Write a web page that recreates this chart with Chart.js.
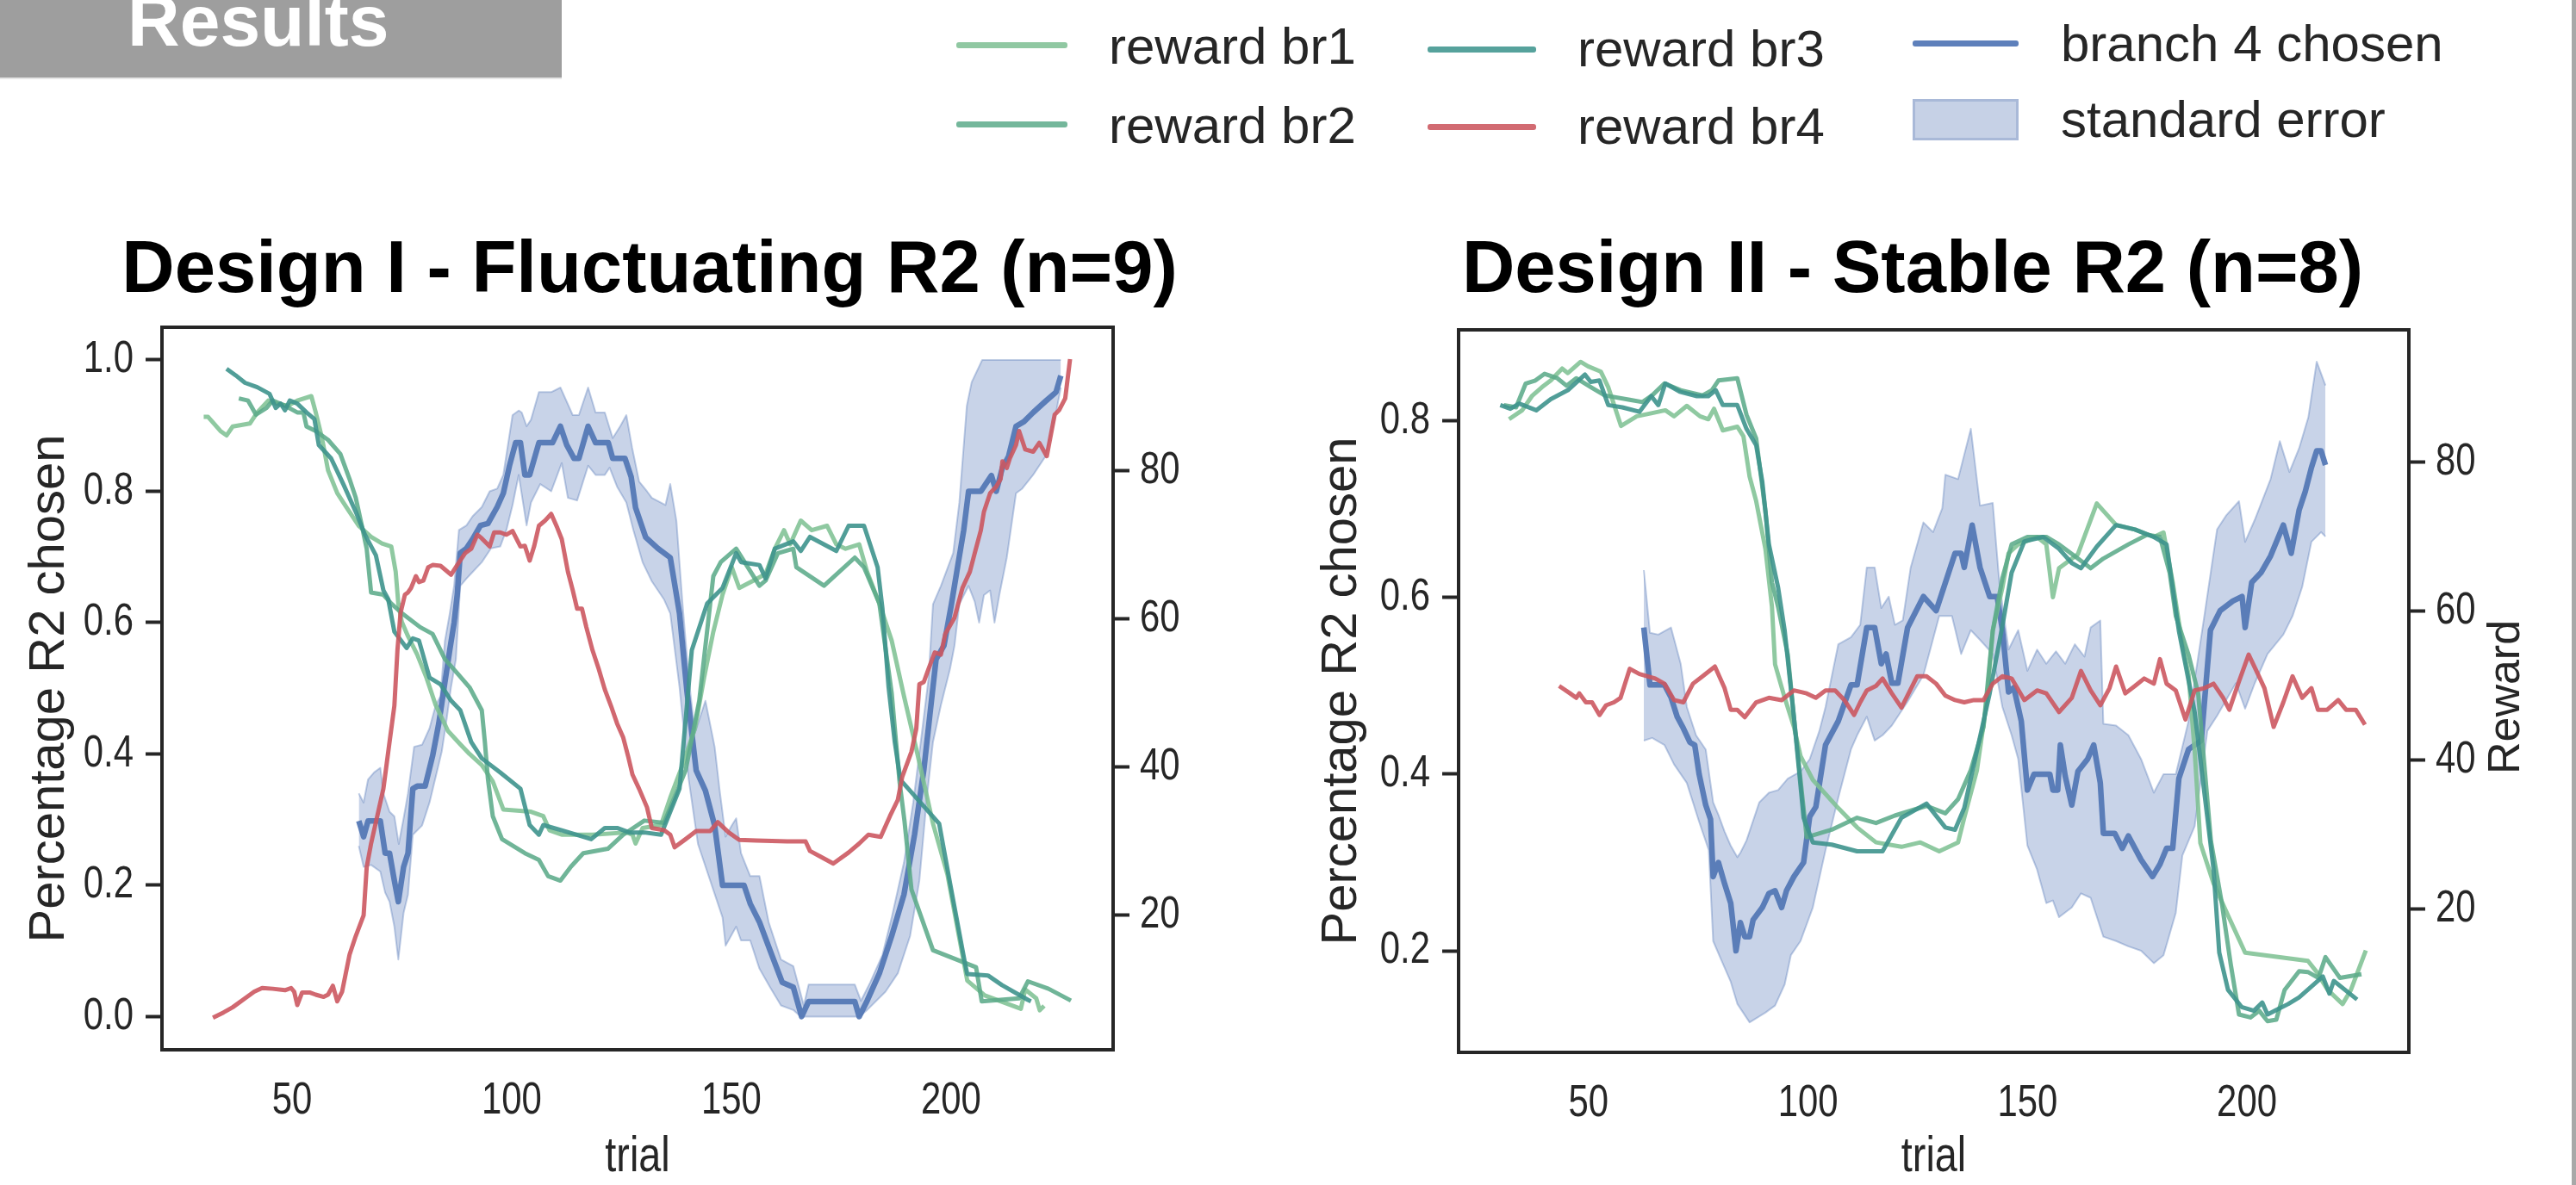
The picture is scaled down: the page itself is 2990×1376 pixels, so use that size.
<!DOCTYPE html>
<html>
<head>
<meta charset="utf-8">
<script src="https://cdn.jsdelivr.net/npm/chart.js@4.4.1/dist/chart.umd.min.js"></script>
<style>
  html, body { margin: 0; padding: 0; background: #fff; }
  body { width: 2990px; height: 1376px; position: relative; overflow: hidden; }
  #banner { position: absolute; left: 0; top: 0; width: 652px; height: 90px; background: #9e9e9e; overflow: hidden; border-bottom: 2px solid #e6e6e6; }
  #banner span { position: absolute; left: 148px; top: -18px; font: bold 84px/84px "Liberation Sans", Arial, sans-serif; color: #fff; white-space: nowrap; }
  .lgl { position: absolute; height: 7px; border-radius: 3px; }
  .lgt { position: absolute; font: 60px/60px "Liberation Sans", Arial, sans-serif; color: #262626; white-space: nowrap; }
  .lgp { position: absolute; box-sizing: border-box; background: #c6d1e6; border: 3px solid #a9b9d8; }
  canvas { position: absolute; }
  #edge { position: absolute; left: 2985px; top: 0; width: 5px; height: 1376px; background: #a8a8a8; }
</style>
</head>
<body>
<div id="banner"><span>Results</span></div>

<div class="lgl" style="left:1110px;top:48.5px;width:129px;background:#90c8a2"></div>
<div class="lgt" style="left:1287px;top:24px">reward br1</div>
<div class="lgl" style="left:1110px;top:140.5px;width:129px;background:#74b79b"></div>
<div class="lgt" style="left:1287px;top:116px">reward br2</div>
<div class="lgl" style="left:1657px;top:53.5px;width:126px;background:#56a29c"></div>
<div class="lgt" style="left:1831px;top:27px">reward br3</div>
<div class="lgl" style="left:1657px;top:143.5px;width:126px;background:#d26b72"></div>
<div class="lgt" style="left:1831px;top:117px">reward br4</div>
<div class="lgl" style="left:2220px;top:46.5px;width:123px;background:#5e80bb"></div>
<div class="lgt" style="left:2392px;top:21px">branch 4 chosen</div>
<div class="lgp" style="left:2220px;top:115px;width:123px;height:48px"></div>
<div class="lgt" style="left:2392px;top:109px">standard error</div>

<canvas id="c1" width="1508" height="1146" style="left:0px;top:230px"></canvas>
<canvas id="c2" width="1440" height="1143" style="left:1500px;top:233px"></canvas>
<div id="edge"></div>

<script>
// ---------------- DATA ----------------
const xTickValues = [50, 100, 150, 200];
const d1PctTicks = [0.0, 0.2, 0.4, 0.6, 0.8, 1.0];
const d2PctTicks = [0.2, 0.4, 0.6, 0.8];
const rewardTicks = [20, 40, 60, 80];

const titleD1 = 'Design I - Fluctuating R2 (n=9)';
const titleD2 = 'Design II - Stable R2 (n=8)';

// Design I : [trial, reward]
const d1Br1 = [[29.9,87.3],[30.9,87.3],[33.7,85.4],[35.1,84.8],[36.5,86.0],[40.4,86.4],[42.1,87.9],[44.6,89.5],[46.3,89.1],[49.1,88.8],[51.2,89.5],[54.4,90.1],[55.4,87.9],[56.8,84.5],[58.2,80.1],[60.3,77.0],[62.4,75.1],[65.2,72.6],[68.0,71.1],[70.5,70.2],[72.6,69.8],[73.6,66.4],[74.2,62.1],[75.0,59.6],[76.4,57.7],[78.5,55.2],[80.6,52.1],[82.7,48.4],[85.5,44.9],[88.3,43.1],[90.4,41.8],[93.2,40.3],[95.7,38.1],[98.1,34.3],[104.4,34.0],[107.2,33.4],[108.6,31.5],[111.4,30.9],[118.4,30.9],[126.1,31.2],[127.5,30.9],[128.2,29.7],[129.8,31.8],[134.0,32.2],[136.1,35.9],[138.9,40.3],[141.7,45.2],[143.8,52.1],[145.9,58.3],[148.0,63.3],[150.1,67.0],[151.8,64.2],[155.0,65.2],[157.8,66.1],[159.9,69.5],[162.0,72.0],[163.4,70.1],[165.8,73.3],[168.3,72.0],[171.8,72.6],[173.9,70.1],[176.0,69.5],[179.1,70.1],[180.9,66.4],[183.7,62.1],[186.5,57.1],[189.3,49.6],[192.4,41.7],[195.9,32.4],[199.2,25.5],[203.7,11.2],[207.7,9.2],[215.9,7.4],[216.9,10.0],[219.4,8.8],[220.2,7.2],[221.2,7.8]];
const d1Br2 = [[37.9,89.8],[40.0,89.5],[41.8,87.6],[44.2,88.5],[45.6,89.5],[48.4,88.8],[51.2,87.9],[52.6,87.9],[53.3,86.0],[55.4,85.4],[58.2,84.2],[61.0,82.3],[63.1,78.9],[64.5,76.4],[65.9,72.6],[67.0,69.5],[68.0,63.6],[70.8,63.3],[72.6,62.1],[75.0,60.8],[79.2,58.9],[82.0,58.0],[84.8,54.6],[87.6,52.7],[90.4,50.8],[93.2,47.7],[93.9,43.4],[94.6,38.4],[95.7,33.4],[97.8,30.3],[103.0,28.4],[106.2,27.5],[108.3,25.3],[111.1,24.7],[113.5,26.6],[116.3,28.4],[121.9,29.0],[125.4,30.9],[130.2,32.8],[134.7,32.5],[139.6,39.6],[142.7,49.0],[145.9,65.8],[147.6,67.7],[151.1,69.5],[156.4,64.5],[157.8,65.2],[160.6,68.9],[164.1,69.5],[164.8,67.0],[171.1,64.5],[178.1,68.3],[180.2,67.0],[183.7,62.1],[186.5,50.0],[188.3,38.0],[189.4,32.8],[191.0,23.5],[195.9,15.3],[205.7,13.0],[207.0,8.4],[215.5,8.8],[217.5,11.1],[222.2,10.1],[227.3,8.5]];
const d1Br3 = [[35.1,93.8],[37.2,92.9],[39.3,91.9],[42.1,91.3],[44.9,90.4],[46.3,88.5],[47.4,89.1],[48.4,88.2],[49.5,89.5],[51.2,89.1],[53.3,87.9],[55.1,87.0],[56.1,83.5],[58.9,81.7],[61.7,78.2],[64.5,74.5],[66.6,71.4],[69.1,68.6],[70.8,63.9],[71.9,62.7],[73.3,58.3],[76.1,56.1],[77.5,57.4],[78.9,57.1],[81.3,52.1],[83.8,51.2],[86.2,49.0],[88.3,47.7],[90.8,43.4],[93.2,41.2],[97.4,39.3],[102.0,37.1],[104.1,32.2],[106.2,30.9],[107.2,32.2],[111.4,31.5],[118.1,30.3],[121.2,31.8],[124.0,31.8],[126.8,31.2],[130.2,31.2],[134.0,30.9],[138.2,37.1],[141.0,55.8],[144.5,62.1],[148.0,64.2],[151.1,68.9],[152.2,67.7],[156.4,67.3],[157.8,65.5],[159.9,69.5],[164.1,70.5],[165.8,69.2],[167.9,71.1],[173.9,69.2],[176.7,72.6],[180.2,72.6],[183.3,67.0],[184.4,61.4],[185.8,50.8],[187.2,43.4],[188.5,38.3],[197.3,32.4],[199.8,24.3],[203.1,13.8],[203.7,12.1],[208.4,11.9],[211.6,10.6],[217.5,8.6],[218.2,8.4]];
const d1Br4 = [[32.0,6.2],[34.4,6.9],[36.5,7.6],[39.3,8.8],[41.4,9.7],[43.2,10.2],[45.6,10.1],[48.4,9.9],[49.8,10.2],[50.5,9.7],[51.2,7.9],[52.3,9.6],[54.0,9.6],[55.4,9.3],[57.2,9.0],[58.2,9.3],[59.3,10.5],[60.3,8.4],[61.4,9.7],[63.1,14.7],[64.5,17.2],[66.3,20.0],[67.0,26.5],[68.0,29.7],[69.4,33.4],[70.8,37.1],[72.2,43.4],[73.3,48.3],[74.0,55.8],[74.7,60.8],[75.7,63.3],[76.4,63.6],[77.1,64.2],[78.2,65.8],[78.9,65.0],[79.9,65.2],[81.0,67.0],[82.0,67.3],[83.8,67.2],[84.8,66.7],[86.2,66.0],[87.6,67.3],[89.4,68.9],[90.8,69.5],[92.2,71.4],[93.2,70.9],[95.0,69.8],[96.0,71.7],[97.4,71.7],[98.8,71.4],[100.2,71.9],[102.0,69.8],[103.0,69.9],[104.1,67.9],[105.1,69.8],[106.2,72.6],[107.6,73.3],[109.0,74.2],[110.4,72.3],[111.4,70.8],[112.8,66.4],[113.9,63.9],[114.9,61.4],[116.0,61.4],[117.0,58.9],[118.4,55.8],[119.8,53.3],[121.2,50.5],[122.6,48.3],[124.0,45.9],[125.4,44.0],[126.5,41.5],[127.5,39.0],[129.0,37.1],[130.8,34.6],[131.9,31.8],[134.7,31.5],[136.1,30.9],[137.1,29.2],[139.6,30.3],[142.0,31.4],[145.2,31.4],[146.9,32.6],[149.4,31.2],[151.8,30.2],[155.7,30.1],[162.7,30.0],[166.9,30.0],[167.9,28.7],[170.4,27.9],[173.2,27.0],[176.7,28.5],[179.1,29.7],[181.2,30.9],[184.0,30.6],[186.1,33.4],[187.9,35.6],[188.9,38.7],[191.0,42.1],[192.1,45.2],[192.8,51.2],[193.8,51.5],[194.9,53.3],[196.3,55.5],[197.7,55.2],[198.7,58.0],[200.8,60.2],[202.6,64.2],[204.3,66.4],[205.4,68.9],[206.8,72.0],[207.5,74.5],[208.9,77.0],[210.3,77.9],[211.3,78.9],[211.7,81.3],[212.7,80.4],[213.4,81.7],[214.8,83.5],[215.5,85.4],[216.9,82.9],[218.7,82.6],[220.1,83.8],[221.8,82.0],[223.6,87.6],[224.6,88.2],[226.0,89.8],[227.1,95.1]];
// Design I : [trial, share of R2 chosen]
const d1Chosen = [[65.2,0.298],[66.3,0.274],[67.3,0.298],[70.1,0.298],[71.2,0.249],[72.2,0.249],[73.3,0.207],[74.2,0.175],[75.4,0.228],[76.4,0.249],[77.5,0.347],[78.5,0.351],[80.3,0.351],[82.0,0.397],[83.4,0.446],[84.8,0.509],[85.9,0.558],[86.9,0.600],[87.6,0.642],[88.3,0.706],[89.7,0.713],[91.1,0.727],[92.9,0.748],[94.6,0.751],[96.7,0.776],[98.1,0.797],[99.5,0.839],[100.9,0.874],[102.0,0.874],[103.0,0.825],[104.1,0.825],[106.2,0.874],[109.3,0.874],[111.1,0.899],[112.5,0.871],[114.2,0.850],[115.3,0.850],[117.4,0.899],[119.1,0.874],[122.0,0.874],[123.0,0.850],[125.8,0.850],[127.2,0.822],[128.2,0.775],[130.5,0.730],[133.3,0.713],[136.1,0.699],[138.2,0.614],[139.9,0.495],[142.0,0.375],[144.1,0.344],[146.2,0.291],[148.0,0.200],[152.9,0.200],[154.3,0.172],[156.4,0.144],[158.8,0.101],[161.6,0.052],[164.1,0.045],[166.0,0.0],[167.6,0.023],[178.1,0.023],[179.1,0.0],[180.9,0.024],[183.7,0.066],[186.5,0.123],[189.3,0.186],[191.7,0.277],[193.8,0.375],[195.2,0.460],[196.6,0.544],[198.4,0.565],[200.1,0.628],[201.5,0.685],[202.9,0.741],[204.0,0.800],[206.8,0.800],[209.2,0.824],[210.3,0.800],[211.7,0.836],[213.1,0.853],[214.8,0.899],[216.6,0.906],[218.7,0.920],[221.5,0.937],[223.9,0.951],[225.0,0.976]];
const d1ErrUpper = [[65.2,0.340],[66.3,0.326],[67.3,0.361],[68.7,0.372],[70.1,0.379],[70.8,0.340],[72.2,0.312],[73.3,0.305],[74.3,0.263],[75.4,0.302],[76.4,0.340],[77.8,0.411],[79.6,0.414],[81.3,0.439],[82.7,0.474],[83.8,0.488],[84.8,0.572],[85.9,0.614],[86.9,0.656],[88.0,0.741],[89.7,0.748],[91.1,0.762],[93.2,0.776],[95.0,0.800],[96.7,0.804],[98.1,0.825],[100.2,0.916],[101.6,0.923],[102.3,0.920],[103.4,0.899],[104.4,0.909],[106.2,0.951],[109.0,0.951],[111.1,0.958],[113.9,0.916],[115.3,0.916],[117.4,0.958],[119.1,0.920],[121.2,0.920],[123.0,0.881],[124.7,0.899],[126.1,0.916],[127.4,0.867],[129.0,0.815],[130.8,0.800],[131.9,0.790],[135.0,0.779],[136.1,0.811],[137.5,0.755],[138.9,0.628],[140.3,0.516],[141.7,0.432],[144.1,0.481],[146.2,0.411],[147.3,0.347],[148.7,0.274],[150.1,0.291],[151.1,0.302],[152.2,0.249],[154.3,0.214],[156.4,0.214],[158.5,0.144],[161.3,0.087],[164.1,0.077],[166.5,0.017],[167.6,0.049],[178.1,0.049],[179.5,0.024],[181.6,0.052],[184.4,0.094],[186.5,0.151],[189.3,0.235],[191.4,0.326],[193.5,0.439],[194.9,0.516],[195.9,0.628],[197.7,0.656],[200.5,0.706],[201.9,0.783],[203.6,0.930],[204.7,0.966],[207.1,1.0],[225.0,1.0]];
const d1ErrLower = [[65.2,0.260],[66.3,0.228],[68.0,0.231],[70.1,0.221],[71.2,0.189],[72.2,0.175],[73.3,0.137],[74.2,0.087],[75.4,0.158],[76.4,0.186],[77.5,0.277],[79.6,0.291],[81.3,0.326],[82.7,0.365],[84.1,0.404],[85.2,0.453],[86.2,0.502],[87.3,0.544],[88.3,0.656],[89.7,0.667],[91.1,0.677],[93.2,0.692],[95.3,0.713],[97.4,0.716],[98.8,0.741],[100.2,0.779],[101.6,0.825],[103.4,0.748],[104.4,0.783],[106.5,0.811],[109.0,0.800],[111.4,0.843],[112.8,0.790],[114.9,0.786],[117.4,0.839],[119.1,0.825],[121.2,0.825],[122.3,0.836],[124.0,0.807],[126.1,0.783],[127.7,0.741],[129.8,0.692],[131.9,0.663],[134.7,0.635],[136.1,0.614],[138.2,0.502],[140.3,0.361],[142.4,0.263],[144.5,0.221],[145.9,0.193],[148.0,0.151],[148.7,0.108],[151.1,0.137],[152.2,0.116],[154.3,0.116],[156.4,0.073],[158.8,0.045],[161.3,0.017],[164.1,0.010],[165.8,0.0],[179.1,0.0],[180.9,0.010],[185.1,0.038],[187.9,0.066],[190.7,0.123],[192.8,0.207],[194.5,0.333],[195.9,0.418],[197.7,0.474],[199.8,0.530],[200.8,0.565],[201.9,0.628],[204.0,0.656],[205.4,0.632],[206.4,0.600],[207.5,0.642],[208.9,0.649],[209.9,0.600],[211.0,0.642],[212.7,0.699],[214.8,0.797],[216.2,0.804],[218.7,0.825],[221.5,0.853],[223.6,0.909],[225.0,0.958]];

// Design II : [trial, reward]
const d2Br1 = [[31.9,85.8],[34.9,87.0],[37.1,88.9],[39.4,90.1],[41.4,91.0],[44.0,92.6],[45.3,92.0],[48.2,93.5],[49.9,92.9],[52.8,92.2],[54.5,90.1],[57.4,84.9],[61.0,86.2],[64.3,86.6],[67.5,87.0],[69.5,86.2],[72.4,87.6],[75.4,86.2],[77.3,85.8],[78.6,87.2],[80.6,84.3],[83.9,84.8],[85.3,83.5],[86.7,78.1],[88.2,74.8],[90.3,68.4],[91.8,60.6],[92.5,52.9],[94.7,48.4],[96.8,44.5],[98.3,40.6],[101.1,37.4],[106.9,33.6],[111.2,31.0],[115.5,29.0],[121.3,28.4],[125.6,29.0],[129.9,27.8],[134.2,29.0],[135.6,32.3],[138.5,38.7],[140.7,47.7],[142.1,57.4],[144.3,63.2],[145.7,67.8],[147.9,69.0],[152.2,70.0],[154.3,69.0],[155.8,61.9],[157.2,65.8],[161.5,67.7],[165.8,74.5],[170.2,71.6],[174.5,71.0],[178.8,70.0],[181.0,70.6],[183.1,63.9],[185.3,55.5],[186.7,51.6],[188.1,41.3],[189.4,28.9],[192.4,23.5],[195.7,19.2],[199.6,14.2],[213.9,13.1],[215.9,11.6],[218.4,9.2],[221.8,7.3],[223.7,9.2],[227.1,14.5]];
const d2Br2 = [[30.7,87.7],[33.5,87.4],[35.7,90.6],[37.9,91.0],[40.0,91.9],[42.9,91.3],[45.0,90.3],[47.2,91.3],[50.8,90.0],[53.7,89.0],[59.4,88.4],[62.3,88.1],[64.5,89.0],[67.3,90.6],[71.0,89.7],[76.0,89.0],[78.1,89.7],[79.6,91.0],[83.9,91.3],[86.0,86.4],[88.2,83.2],[90.3,73.5],[91.8,63.9],[93.2,60.6],[95.4,54.2],[96.8,45.8],[98.3,37.4],[99.7,29.7],[105.4,30.7],[111.2,32.3],[115.5,31.6],[119.8,32.6],[127.0,33.9],[131.3,32.9],[134.2,34.8],[137.1,38.7],[140.0,44.5],[142.1,57.4],[144.3,64.5],[146.4,69.0],[150.0,70.0],[154.3,70.0],[157.2,69.0],[161.5,67.1],[164.4,65.8],[167.3,67.1],[173.0,69.0],[177.3,70.3],[180.2,70.0],[182.4,65.2],[183.8,59.4],[186.7,54.2],[188.9,49.0],[191.8,29.2],[194.3,20.8],[196.3,12.7],[198.2,5.9],[200.8,5.5],[202.8,6.4],[204.7,5.0],[206.7,5.2],[208.6,9.2],[211.9,11.7],[213.9,11.6],[216.3,10.8],[217.9,13.6],[221.2,10.8],[226.1,11.3]];
const d2Br3 = [[29.9,87.7],[32.2,87.2],[34.2,87.9],[38.1,87.0],[41.4,88.5],[45.3,89.7],[49.2,91.8],[50.5,90.8],[52.5,91.0],[54.5,87.7],[57.7,87.4],[61.6,86.8],[64.3,88.9],[65.9,87.7],[67.5,90.6],[70.8,89.5],[74.7,88.9],[77.3,88.9],[79.0,89.7],[80.6,87.7],[83.9,87.7],[86.0,84.5],[88.2,82.3],[89.6,77.4],[91.1,69.0],[93.2,63.2],[94.7,57.4],[96.8,45.8],[99.0,32.3],[101.1,29.0],[105.4,28.7],[111.2,27.8],[117.0,27.8],[121.3,32.3],[127.0,34.2],[131.3,31.0],[133.5,30.7],[135.6,33.6],[138.5,41.3],[141.4,49.0],[144.3,58.1],[146.4,65.2],[149.3,69.4],[153.6,70.0],[157.2,68.4],[160.1,66.5],[162.2,65.8],[165.8,68.7],[170.2,71.6],[174.5,71.0],[178.8,70.0],[181.7,69.0],[183.1,63.2],[184.5,57.4],[186.0,52.9],[188.1,46.5],[192.4,25.4],[193.7,14.2],[195.7,9.2],[198.8,6.9],[201.6,6.4],[203.5,7.5],[204.7,5.9],[206.7,6.5],[209.4,7.3],[211.9,8.2],[217.3,11.0],[218.8,8.7],[219.8,10.4],[225.1,7.9]];
const d2Br4 = [[43.3,50.0],[45.8,49.0],[47.2,48.4],[47.9,49.0],[49.4,47.8],[50.8,47.8],[52.5,46.1],[54.0,47.4],[55.8,47.8],[57.3,48.4],[59.4,52.3],[61.6,51.6],[65.2,51.0],[67.3,50.3],[69.5,48.1],[71.6,47.8],[73.8,50.3],[76.0,51.3],[78.8,52.6],[81.0,49.7],[82.4,46.8],[83.9,46.8],[85.6,45.8],[88.2,47.8],[91.1,48.4],[94.0,48.1],[96.8,49.4],[99.7,49.0],[101.8,48.4],[104.0,49.4],[106.2,49.4],[108.3,48.1],[110.5,46.1],[111.9,47.8],[113.4,49.4],[115.5,50.0],[117.0,51.0],[119.1,49.0],[121.3,47.1],[124.9,51.3],[127.0,51.3],[129.2,50.3],[131.3,48.7],[133.5,48.1],[135.6,47.8],[137.8,48.1],[140.0,48.1],[142.1,50.3],[144.3,51.3],[146.4,51.0],[149.3,48.1],[152.2,49.4],[154.3,49.0],[157.2,46.5],[160.1,48.4],[162.2,52.0],[164.4,49.4],[166.6,47.4],[168.7,49.7],[170.2,52.6],[172.3,49.0],[174.5,50.0],[176.6,51.0],[178.8,50.3],[180.2,53.6],[181.7,50.3],[183.8,49.4],[186.0,45.5],[188.1,49.4],[190.3,49.7],[192.4,50.3],[194.6,48.4],[196.0,46.8],[198.2,50.6],[200.4,54.2],[202.5,51.6],[204.0,49.7],[206.1,44.5],[208.3,47.8],[210.4,51.3],[212.6,48.4],[214.7,49.7],[216.2,46.8],[218.3,46.8],[220.8,48.1],[222.6,46.8],[224.8,46.8],[226.9,44.8]];
// Design II : [trial, share of R2 chosen]
const d2Chosen = [[62.6,0.566],[64.0,0.501],[67.3,0.501],[68.8,0.487],[70.2,0.465],[71.6,0.452],[73.1,0.436],[74.2,0.433],[75.2,0.400],[76.7,0.365],[77.8,0.349],[78.4,0.284],[79.6,0.300],[81.0,0.276],[82.4,0.254],[83.6,0.200],[84.6,0.232],[85.6,0.216],[86.7,0.216],[87.5,0.235],[89.6,0.249],[91.1,0.265],[92.5,0.268],[94.0,0.249],[95.1,0.268],[96.8,0.284],[99.0,0.300],[100.4,0.352],[101.8,0.363],[104.0,0.433],[106.9,0.460],[109.8,0.501],[111.2,0.501],[113.4,0.566],[115.2,0.566],[116.7,0.525],[117.8,0.536],[119.1,0.503],[120.5,0.503],[122.7,0.566],[126.3,0.601],[129.2,0.585],[133.5,0.650],[134.9,0.650],[135.6,0.634],[137.4,0.682],[139.2,0.634],[141.4,0.601],[143.1,0.601],[144.3,0.563],[145.7,0.493],[146.9,0.498],[148.6,0.460],[150.0,0.382],[151.5,0.400],[155.1,0.400],[155.8,0.382],[156.9,0.382],[157.5,0.433],[158.6,0.398],[160.1,0.365],[161.5,0.403],[163.7,0.417],[165.1,0.433],[166.6,0.390],[167.3,0.333],[169.9,0.333],[171.6,0.316],[173.0,0.330],[175.9,0.303],[178.5,0.284],[180.2,0.298],[181.7,0.316],[183.1,0.316],[184.5,0.395],[186.7,0.428],[189.6,0.438],[191.7,0.563],[193.9,0.585],[196.8,0.596],[198.9,0.601],[199.6,0.566],[201.1,0.617],[203.2,0.628],[205.4,0.647],[208.3,0.682],[210.1,0.650],[211.9,0.699],[213.3,0.720],[214.7,0.747],[215.9,0.766],[216.9,0.766],[217.9,0.750]];
const d2ErrUpper = [[62.6,0.631],[64.0,0.560],[65.9,0.558],[68.8,0.566],[71.0,0.525],[72.4,0.476],[74.5,0.444],[76.7,0.428],[78.4,0.368],[79.6,0.354],[81.0,0.335],[82.4,0.319],[83.9,0.306],[84.6,0.311],[86.0,0.325],[88.9,0.368],[91.1,0.379],[93.2,0.382],[95.4,0.395],[98.3,0.403],[100.4,0.417],[102.6,0.449],[104.0,0.476],[106.9,0.547],[109.8,0.555],[111.9,0.569],[113.4,0.634],[115.2,0.634],[116.7,0.588],[118.4,0.601],[119.8,0.569],[121.6,0.574],[123.4,0.634],[126.3,0.685],[128.5,0.674],[130.6,0.701],[131.3,0.739],[134.2,0.734],[137.1,0.791],[139.2,0.704],[142.1,0.707],[143.6,0.617],[145.7,0.541],[147.9,0.563],[150.0,0.517],[152.2,0.541],[154.3,0.525],[156.5,0.539],[158.6,0.525],[160.8,0.547],[163.0,0.533],[164.4,0.566],[166.6,0.574],[167.3,0.457],[170.2,0.455],[173.0,0.444],[175.9,0.417],[178.8,0.379],[181.0,0.400],[183.8,0.400],[186.7,0.460],[190.3,0.579],[193.2,0.677],[195.3,0.693],[198.2,0.709],[199.6,0.663],[201.8,0.688],[205.4,0.734],[207.5,0.777],[209.7,0.742],[211.9,0.769],[214.0,0.804],[215.9,0.867],[217.9,0.840]];
const d2ErrLower = [[62.6,0.438],[64.5,0.441],[67.3,0.433],[69.5,0.411],[72.4,0.390],[75.2,0.346],[77.4,0.314],[78.4,0.211],[80.3,0.189],[82.4,0.165],[83.9,0.140],[86.7,0.119],[90.3,0.130],[92.5,0.138],[94.7,0.162],[96.1,0.195],[98.3,0.211],[101.1,0.249],[104.0,0.314],[106.9,0.373],[109.8,0.428],[111.2,0.444],[113.4,0.465],[115.2,0.438],[117.0,0.444],[119.1,0.455],[122.7,0.482],[126.3,0.512],[129.9,0.579],[132.8,0.579],[134.9,0.536],[137.1,0.563],[139.2,0.552],[142.1,0.536],[144.3,0.476],[146.4,0.444],[147.9,0.417],[150.0,0.319],[152.2,0.292],[154.3,0.254],[155.8,0.257],[157.2,0.238],[160.1,0.249],[162.2,0.265],[164.4,0.260],[167.3,0.216],[170.2,0.211],[173.0,0.205],[175.9,0.200],[178.8,0.186],[181.0,0.195],[183.8,0.243],[185.3,0.308],[188.1,0.341],[191.0,0.449],[193.2,0.466],[197.5,0.503],[199.6,0.474],[201.8,0.503],[204.7,0.536],[208.3,0.558],[210.4,0.579],[212.6,0.612],[214.7,0.663],[216.9,0.674],[217.9,0.669]];

// ---------------- STYLE ----------------
const SANS = '"Liberation Sans", Arial, Helvetica, sans-serif';
const INK = '#262626';
const NARROW_FACTOR = 0.82;
const COL = {
  br1: 'rgba(128,194,148,0.88)',
  br2: 'rgba(92,171,138,0.88)',
  br3: 'rgba(62,148,141,0.9)',
  br4: 'rgba(204,88,96,0.9)',
  chosen: 'rgba(80,117,180,0.92)',
  band: 'rgba(84,118,184,0.32)',
  bandEdge: 'rgba(84,118,184,0.36)'
};

const toPts = arr => arr.map(p => ({x: p[0], y: p[1]}));

function lineSet(label, arr, color, width, axis, order) {
  return { label, data: toPts(arr), borderColor: color, borderWidth: width, yAxisID: axis,
           pointRadius: 0, tension: 0, fill: false, order,
           borderJoinStyle: 'round', borderCapStyle: 'butt' };
}

// draw text horizontally condensed around its anchor (the reference uses a narrow face)
function condensed(ctx, factor, fn) {
  const proto = Object.getPrototypeOf(ctx).fillText;
  ctx.fillText = function (t, x, y, w) {
    this.save(); this.translate(x, y); this.scale(factor, 1);
    if (w === undefined) proto.call(this, t, 0, 0); else proto.call(this, t, 0, 0, w / factor);
    this.restore();
  };
  try { fn(); } finally { delete ctx.fillText; }
}

const narrowTicksPlugin = {
  id: 'narrowTicks',
  beforeDraw(chart) {
    Object.values(chart.scales).forEach(s => {
      if (s.$narrow) return;
      s.$narrow = true;
      const dl = s.drawLabels.bind(s);
      s.drawLabels = ca => condensed(s.ctx, NARROW_FACTOR, () => dl(ca));
      if (s.axis === 'x') {
        const dt = s.drawTitle.bind(s);
        s.drawTitle = () => condensed(s.ctx, NARROW_FACTOR, () => dt());
      }
    });
  }
};

const framePlugin = {
  id: 'frame',
  afterDraw(chart) {
    const {ctx, chartArea: a} = chart;
    ctx.save();
    ctx.strokeStyle = INK; ctx.lineWidth = 4;
    ctx.strokeRect(a.left, a.top, a.right - a.left, a.bottom - a.top);
    ctx.restore();
  }
};

const rewardTitlePlugin = {
  id: 'rewardTitle',
  afterDraw(chart) {
    const {ctx, chartArea: a} = chart;
    ctx.save();
    ctx.translate(a.right + 114, (a.top + a.bottom) / 2 + 7);
    ctx.rotate(-Math.PI / 2);
    ctx.font = '52px ' + SANS;
    ctx.fillStyle = INK; ctx.textAlign = 'center'; ctx.textBaseline = 'middle';
    ctx.fillText('Reward', 0, 0);
    ctx.restore();
  }
};

function buildChart(id, o) {
  const datasets = [
    lineSet('reward br4', o.br4, COL.br4, 5, 'y2', 0),
    lineSet('reward br3', o.br3, COL.br3, 5, 'y2', 1),
    lineSet('reward br2', o.br2, COL.br2, 5, 'y2', 2),
    lineSet('reward br1', o.br1, COL.br1, 5, 'y2', 3),
    lineSet('branch 4 chosen', o.chosen, COL.chosen, 6.5, 'y', 5),
    Object.assign(lineSet('standard error', o.upper, COL.bandEdge, 2, 'y', 10),
                  { fill: '+1', backgroundColor: COL.band }),
    lineSet('standard error low', o.lower, COL.bandEdge, 2, 'y', 11)
  ];
  const tickFont = { family: SANS, size: 51 };
  return new Chart(document.getElementById(id), {
    type: 'line',
    data: { datasets },
    options: {
      responsive: false, animation: false, devicePixelRatio: 1, events: [],
      layout: { padding: 0 },
      plugins: {
        legend: { display: false }, tooltip: { enabled: false },
        title: { display: true, text: o.title, color: '#000',
                 font: { family: SANS, size: 85, weight: 'bold', lineHeight: 1.2 },
                 padding: { top: o.titleTop, bottom: 48 - o.titleTop } }
      },
      scales: {
        x: {
          type: 'linear', min: 20.4, max: 236.9,
          afterBuildTicks: s => { s.ticks = xTickValues.map(v => ({ value: v })); },
          afterFit: s => { s.height = o.xH; },
          ticks: { font: tickFont, color: INK, padding: 29, autoSkip: false, maxRotation: 0,
                   callback: v => String(v) },
          grid: { display: false, drawTicks: false }, border: { display: false },
          title: { display: true, text: 'trial', color: INK, padding: 0,
                   font: { family: SANS, size: 57, lineHeight: 1.1 } }
        },
        y: {
          position: 'left', min: o.yMin, max: o.yMax,
          afterBuildTicks: s => { s.ticks = o.pctTicks.map(v => ({ value: v })); },
          afterFit: s => { s.width = o.yW; },
          ticks: { font: tickFont, color: INK, padding: 14, autoSkip: false,
                   callback: v => Number(v).toFixed(1) },
          grid: { drawOnChartArea: false, drawTicks: true, tickLength: 19, tickWidth: 4, tickColor: INK },
          border: { display: false },
          title: { display: true, text: 'Percentage R2 chosen', color: INK,
                   font: { family: SANS, size: 58, lineHeight: 1.2 }, padding: { top: 23, bottom: 0 } }
        },
        y2: {
          position: 'right', min: o.rMin, max: o.rMax,
          afterBuildTicks: s => { s.ticks = rewardTicks.map(v => ({ value: v })); },
          afterFit: s => { s.width = o.y2W; },
          ticks: { font: tickFont, color: INK, padding: 12, autoSkip: false, callback: v => String(v) },
          grid: { drawOnChartArea: false, drawTicks: true, tickLength: 19, tickWidth: 4, tickColor: INK },
          border: { display: false }
        }
      }
    },
    plugins: o.reward ? [narrowTicksPlugin, framePlugin, rewardTitlePlugin] : [narrowTicksPlugin, framePlugin]
  });
}

buildChart('c1', {
  title: titleD1, titleTop: 34.5, xH: 157, yW: 188, y2W: 216,
  yMin: -0.0505, yMax: 1.0498, rMin: 1.86, rMax: 99.4, pctTicks: d1PctTicks,
  br1: d1Br1, br2: d1Br2, br3: d1Br3, br4: d1Br4,
  chosen: d1Chosen, upper: d1ErrUpper, lower: d1ErrLower, reward: false
});
buildChart('c2', {
  title: titleD2, titleTop: 32, xH: 154, yW: 193, y2W: 144,
  yMin: 0.085, yMax: 0.903, rMin: 0.81, rMax: 97.8, pctTicks: d2PctTicks,
  br1: d2Br1, br2: d2Br2, br3: d2Br3, br4: d2Br4,
  chosen: d2Chosen, upper: d2ErrUpper, lower: d2ErrLower, reward: true
});
</script>
</body>
</html>
